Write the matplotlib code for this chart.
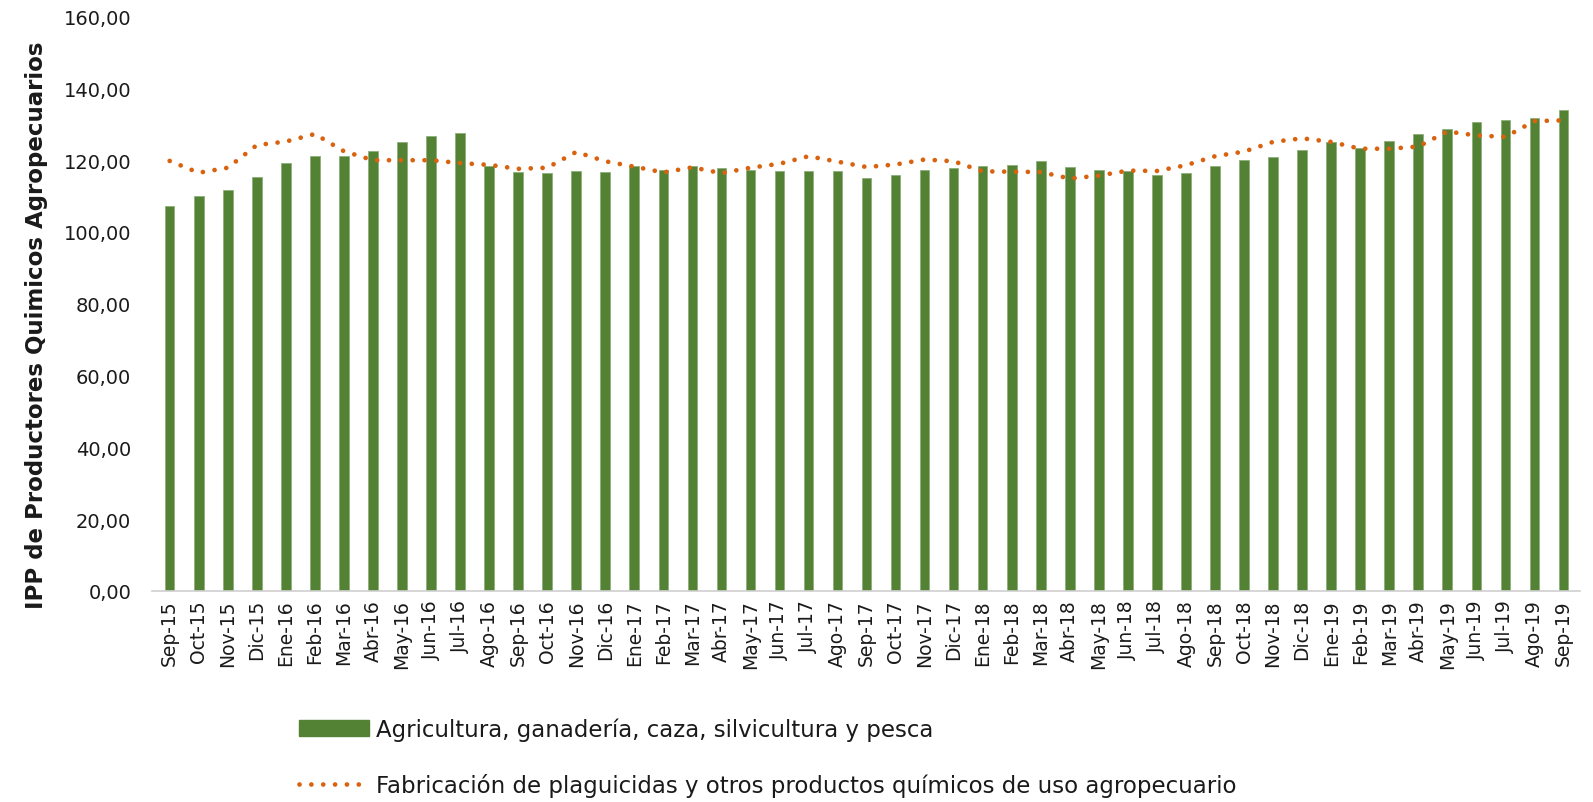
import matplotlib.pyplot as plt
import numpy as np
from matplotlib.patches import Patch
from matplotlib.lines import Line2D

months = ['Sep-15', 'Oct-15', 'Nov-15', 'Dic-15',
          'Ene-16', 'Feb-16', 'Mar-16', 'Abr-16', 'May-16', 'Jun-16',
          'Jul-16', 'Ago-16', 'Sep-16', 'Oct-16', 'Nov-16', 'Dic-16',
          'Ene-17', 'Feb-17', 'Mar-17', 'Abr-17', 'May-17', 'Jun-17',
          'Jul-17', 'Ago-17', 'Sep-17', 'Oct-17', 'Nov-17', 'Dic-17',
          'Ene-18', 'Feb-18', 'Mar-18', 'Abr-18', 'May-18', 'Jun-18',
          'Jul-18', 'Ago-18', 'Sep-18', 'Oct-18', 'Nov-18', 'Dic-18',
          'Ene-19', 'Feb-19', 'Mar-19', 'Abr-19', 'May-19', 'Jun-19',
          'Jul-19', 'Ago-19', 'Sep-19']

# IPP agricultura, ganaderia, caza, silvicultura y pesca (barras)
agricultura = [107.2, 110.0, 111.8, 115.4,
               119.3, 121.3, 121.1, 122.5, 125.2, 126.7,
               127.5, 118.3, 116.8, 116.3, 116.9, 116.6,
               118.5, 117.4, 118.3, 117.9, 117.2, 117.0,
               116.9, 116.9, 115.1, 116.0, 117.2, 117.7,
               118.4, 118.6, 119.9, 118.2, 117.2, 117.0,
               115.8, 116.3, 118.4, 120.1, 120.9, 122.8,
               125.0, 123.4, 125.4, 127.3, 128.8, 130.6,
               131.1, 131.8, 134.1]

# IPP plaguicidas y otros productos quimicos (linea punteada)
plaguicidas = [119.8, 116.5, 117.9, 124.2,
               125.2, 127.3, 122.5, 120.0, 120.0, 120.0,
               119.2, 118.7, 117.6, 117.9, 122.3, 119.7,
               118.2, 116.6, 118.0, 116.4, 117.9, 119.0,
               121.1, 119.6, 118.1, 118.8, 120.2, 119.7,
               116.9, 116.8, 116.7, 114.9, 115.7, 117.1,
               117.0, 118.6, 121.1, 122.4, 125.1, 126.1,
               125.1, 123.2, 123.2, 123.8, 128.0, 126.9,
               126.5, 130.9, 131.1]

label_bar = 'Agricultura, ganadería, caza, silvicultura y pesca'
label_line = 'Fabricación de plaguicidas y otros productos químicos de uso agropecuario'

green = '#548235'
orange = '#D9620E'
txt = '#1a1a1a'
dots = (0, (0.01, 2.5))

fig = plt.figure(figsize=(15.93, 8.03), dpi=100)
ax = fig.add_axes([0.0954, 0.263, 0.8966, 0.715])

x = np.arange(len(months))
ax.bar(x, agricultura, width=0.33, color=green, edgecolor='#8db07a', linewidth=0.6, zorder=2)
ax.plot(x, plaguicidas, color=orange, linewidth=3.4, linestyle=dots,
        dash_capstyle='round', zorder=3)

ax.set_xlim(-0.61, len(months) - 1 + 0.58)
ax.set_ylim(0, 160)
ax.set_yticks(np.arange(0, 161, 20))
ax.set_yticklabels(['%d,00' % v for v in range(0, 161, 20)], fontsize=14, color=txt)
ax.set_xticks(x)
ax.set_xticklabels(months, rotation=90, fontsize=13.5, color=txt)
ax.tick_params(axis='both', length=0)
ax.tick_params(axis='y', pad=15)
ax.tick_params(axis='x', pad=6)

for s in ['top', 'right', 'left']:
    ax.spines[s].set_visible(False)
ax.spines['bottom'].set_color('#d0d0d0')
ax.spines['bottom'].set_linewidth(1.2)

ax.set_ylabel('IPP de Productores Quimicos Agropecuarios', fontsize=16.5,
              fontweight='bold', color=txt)
ax.yaxis.set_label_coords(-0.073, 0.465)

handles = [Patch(facecolor=green, edgecolor=green),
           Line2D([0], [0], color=orange, linewidth=3.4, linestyle=dots,
                  dash_capstyle='round')]
fig.legend(handles, [label_bar, label_line], loc='center left',
           bbox_to_anchor=(0.175, 0.056), frameon=False, fontsize=16.5,
           handlelength=3.05, handleheight=0.7, labelspacing=1.38, handletextpad=0.28,
           labelcolor=txt)

plt.savefig('out.png', dpi=100)
